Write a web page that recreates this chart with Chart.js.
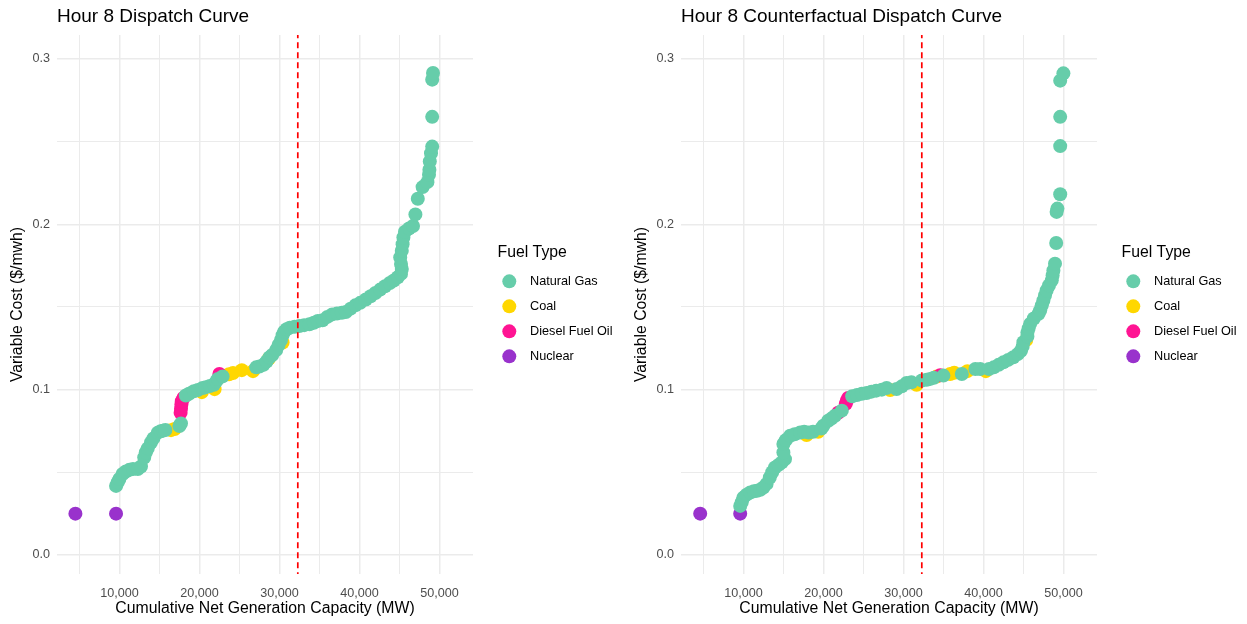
<!DOCTYPE html>
<html>
<head>
<meta charset="utf-8">
<title>Hour 8 Dispatch Curves</title>
<script src="https://cdn.jsdelivr.net/npm/chart.js@4.4.1/dist/chart.umd.min.js"></script>
<style>
  html, body { margin: 0; padding: 0; background: #fff; }
  #wrap { display: flex; width: 1247px; height: 624px; }
  canvas { display: block; }
</style>
</head>
<body>
<div id="wrap">
  <canvas id="dispatch" width="624" height="624"></canvas>
  <canvas id="counter" width="623" height="624"></canvas>
</div>
<script>
// Fuel types, legend order and colours
const fuelTypes = ['Natural Gas', 'Coal', 'Diesel Fuel Oil', 'Nuclear'];
const fuelColors = ['#66CDAA', '#FFD700', '#FF1493', '#9932CC'];
// lower = drawn later (on top)
const drawOrder = [1, 4, 3, 2];

// Load for hour 8 (MW), dashed line
const demandMW = 32300;

// Axis ranges and ticks (every tick gets a grid line, labelled ones are major)
const xMin = 2200, xMax = 54200;
const yMin = -0.0115, yMax = 0.3145;
const xTickValues = [5000, 10000, 15000, 20000, 25000, 30000, 35000, 40000, 45000, 50000];
const xTickLabels = ['', '10,000', '', '20,000', '', '30,000', '', '40,000', '', '50,000'];
const yTickValues = [0, 0.05, 0.1, 0.15, 0.2, 0.25, 0.3];
const yTickLabels = ['0.0', '', '0.1', '', '0.2', '', '0.3'];

// ---- Hour 8 Dispatch Curve ----
const dispGasMW = [9580, 9800, 10000, 10400, 10800, 11250, 11700, 12300, 12700, 13100, 13300, 13550, 13950, 14250,
  14800, 15150, 15450, 15750, 17500, 17700, 18300, 18700, 19300, 19800, 20400, 20800, 21300, 21800, 22100, 22300,
  22900, 27100, 27500, 28000, 28400, 28750, 29100, 29600, 29900, 30200, 30400, 30600, 30900, 31300, 31900, 32500,
  33100, 33750, 34300, 34800, 35400, 36000, 36600, 37200, 37800, 38300, 38900, 39500, 40100, 40800, 41400, 42000,
  42600, 43200, 43800, 44300, 44800, 45200, 45300, 45200, 45100, 45300, 45400, 45500, 45700, 46200, 46700, 47000,
  47300, 47900, 48500, 48700, 48750, 48800, 48950, 49100, 49100, 49100, 49200];
const dispGasCost = [0.0418, 0.0440, 0.0460, 0.0490, 0.0505, 0.0515, 0.0520, 0.0520, 0.0535, 0.0590, 0.0620, 0.0645, 0.0680, 0.0705,
  0.0740, 0.0748, 0.0752, 0.0756, 0.0780, 0.0795, 0.0965, 0.0975, 0.0990, 0.0998, 0.1010, 0.1015, 0.1022, 0.1030, 0.1050, 0.1065,
  0.1080, 0.1135, 0.1140, 0.1150, 0.1170, 0.1195, 0.1210, 0.1240, 0.1270, 0.1300, 0.1330, 0.1350, 0.1365, 0.1375, 0.1380, 0.1385,
  0.1390, 0.1395, 0.1405, 0.1415, 0.1420, 0.1440, 0.1455, 0.1460, 0.1465, 0.1470, 0.1490, 0.1510, 0.1525, 0.1545, 0.1565, 0.1585,
  0.1605, 0.1625, 0.1645, 0.1660, 0.1680, 0.1700, 0.1730, 0.1760, 0.1800, 0.1840, 0.1880, 0.1920, 0.1955, 0.1975, 0.1990, 0.2060,
  0.2155, 0.2225, 0.2255, 0.2300, 0.2330, 0.2380, 0.2430, 0.2470, 0.2650, 0.2875, 0.2915];
const dispCoalMW = [16450, 16900, 20300, 21900, 23700, 24200, 25300, 26700, 28700, 30400];
const dispCoalCost = [0.0755, 0.0762, 0.0985, 0.1003, 0.1093, 0.1100, 0.1118, 0.1112, 0.1188, 0.1285];
const dispDieselMW = [17650, 17700, 17750, 17800, 18000, 22500];
const dispDieselCost = [0.0860, 0.0885, 0.0910, 0.0930, 0.0950, 0.1095];
const dispNuclearMW = [4500, 9580];
const dispNuclearCost = [0.025, 0.025];

// ---- Hour 8 Counterfactual Dispatch Curve ----
const cfGasMW = [9600, 9800, 10000, 10400, 10850, 11300, 11700, 12100, 12500, 12900, 13300, 13600, 13950, 14400,
  14800, 15200, 15000, 15000, 15300, 15850, 16400, 17100, 17600, 18150, 18700, 19750, 20000, 20600, 21000, 21450,
  22300, 23600, 24200, 24800, 25400, 26000, 26600, 27300, 27900, 29150, 29800, 30400, 31000, 32300, 32900, 33350,
  33800, 35000, 37300, 39000, 39600, 40700, 41300, 41900, 42500, 43100, 43750, 44300, 44700, 44900, 45000, 45500,
  45500, 45650, 45850, 46300, 46900, 47100, 47300, 47500, 47700, 47900, 48200, 48550, 48650, 48750, 48950, 49100,
  49150, 49250, 49600, 49600, 49600, 49600, 50000];
const cfGasCost = [0.0297, 0.0320, 0.0347, 0.0365, 0.0378, 0.0385, 0.0388, 0.0395, 0.0408, 0.0430, 0.0469, 0.0500, 0.0529, 0.0545,
  0.0560, 0.0580, 0.0620, 0.0671, 0.0695, 0.0721, 0.0730, 0.0741, 0.0745, 0.0741, 0.0745, 0.0765, 0.0782, 0.0812, 0.0825, 0.0842,
  0.0873, 0.0960, 0.0968, 0.0975, 0.0980, 0.0988, 0.0994, 0.1000, 0.1010, 0.1004, 0.1020, 0.1040, 0.1045, 0.1055, 0.1060, 0.1065,
  0.1072, 0.1085, 0.1095, 0.1125, 0.1125, 0.1125, 0.1135, 0.1150, 0.1165, 0.1180, 0.1196, 0.1215, 0.1235, 0.1260, 0.1287, 0.1322,
  0.1345, 0.1370, 0.1398, 0.1430, 0.1459, 0.1480, 0.1510, 0.1539, 0.1570, 0.1600, 0.1630, 0.1661, 0.1690, 0.1721, 0.1762, 0.1887,
  0.2075, 0.2095, 0.2182, 0.2473, 0.2650, 0.2869, 0.2913];
const cfCoalMW = [17900, 19350, 28350, 31650, 34150, 35850, 36350, 38000, 40300, 45350];
const cfCoalCost = [0.0725, 0.0745, 0.0998, 0.1030, 0.1079, 0.1095, 0.1102, 0.1112, 0.1112, 0.1300];
const cfDieselMW = [21850, 22800, 22950, 23100, 34600];
const cfDieselCost = [0.0860, 0.0915, 0.0935, 0.0950, 0.1087];
const cfNuclearMW = [4600, 9600];
const cfNuclearCost = [0.025, 0.025];

const FONT = '"Liberation Sans", Arial, sans-serif';
Chart.defaults.font.family = FONT;

// draws the "Fuel Type" legend to the right of the panel, centred on it
const fuelLegend = {
  id: 'fuelLegend',
  afterDraw(chart) {
    const {ctx, chartArea} = chart;
    const items = chart.data.datasets.filter(d => !d.hideInLegend);
    const x0 = chartArea.right + 24.5;
    const rowGap = 25;
    const titleGap = 28.7;
    const blockH = titleGap + (items.length - 1) * rowGap;
    let y = (chartArea.top + chartArea.bottom) / 2 - blockH / 2;
    ctx.save();
    ctx.textBaseline = 'middle';
    ctx.textAlign = 'left';
    ctx.fillStyle = '#000';
    ctx.font = '15.8px ' + FONT;
    ctx.fillText('Fuel Type', x0, y);
    y += titleGap;
    items.forEach(d => {
      ctx.beginPath();
      ctx.arc(x0 + 11.8, y, 7, 0, Math.PI * 2);
      ctx.fillStyle = d.backgroundColor;
      ctx.fill();
      ctx.fillStyle = '#000';
      ctx.font = '12.7px ' + FONT;
      ctx.fillText(d.label, x0 + 32.5, y);
      y += rowGap;
    });
    ctx.restore();
  }
};

function makeChart(canvasId, titleText, mwLists, costLists, padRight) {
  const datasets = fuelTypes.map((fuel, i) => ({
    label: fuel,
    data: mwLists[i].map((mw, j) => ({x: mw, y: costLists[i][j]})),
    backgroundColor: fuelColors[i],
    borderWidth: 0,
    pointRadius: 7,
    pointHoverRadius: 7,
    order: drawOrder[i]
  }));
  datasets.push({
    label: 'Load',
    hideInLegend: true,
    data: [{x: demandMW, y: -1}, {x: demandMW, y: 1}],
    showLine: true,
    borderColor: '#FF0000',
    borderWidth: 1.7,
    borderDash: [6, 4],
    pointRadius: 0,
    order: 0
  });

  return new Chart(document.getElementById(canvasId), {
    type: 'scatter',
    data: {datasets: datasets},
    options: {
      responsive: false,
      animation: false,
      events: [],
      layout: {padding: {left: 3, right: padRight, top: 0, bottom: 0}},
      plugins: {
        legend: {display: false},
        tooltip: {enabled: false},
        title: {
          display: true,
          text: titleText,
          align: 'start',
          fullSize: false,
          color: '#000',
          font: {size: 19, weight: 'normal'},
          padding: {top: 5.6, bottom: 6.6}
        }
      },
      scales: {
        x: {
          type: 'linear',
          min: xMin,
          max: xMax,
          border: {display: false},
          afterBuildTicks: axis => { axis.ticks = xTickValues.map(v => ({value: v})); },
          afterFit: axis => { axis.height = 50; },
          grid: {
            drawTicks: false,
            color: '#EBEBEB',
            lineWidth: c => xTickLabels[c.index] ? 1.5 : 1
          },
          ticks: {
            autoSkip: false,
            maxRotation: 0,
            padding: 11.5,
            color: '#4D4D4D',
            font: {size: 12.6},
            callback: (v, i) => xTickLabels[i]
          },
          title: {
            display: true,
            text: 'Cumulative Net Generation Capacity (MW)',
            color: '#000',
            font: {size: 15.8},
            padding: {top: 0, bottom: 5.5}
          }
        },
        y: {
          type: 'linear',
          min: yMin,
          max: yMax,
          border: {display: false},
          afterBuildTicks: axis => { axis.ticks = yTickValues.map(v => ({value: v})); },
          afterFit: axis => { axis.width = 54; },
          grid: {
            drawTicks: false,
            color: '#EBEBEB',
            lineWidth: c => yTickLabels[c.index] ? 1.5 : 1
          },
          ticks: {
            autoSkip: false,
            padding: 7,
            color: '#4D4D4D',
            font: {size: 12.6},
            callback: (v, i) => yTickLabels[i]
          },
          title: {
            display: true,
            text: 'Variable Cost ($/mwh)',
            color: '#000',
            font: {size: 15.8},
            padding: {top: 5.5, bottom: 0}
          }
        }
      }
    },
    plugins: [fuelLegend]
  });
}

makeChart('dispatch', 'Hour 8 Dispatch Curve',
  [dispGasMW, dispCoalMW, dispDieselMW, dispNuclearMW],
  [dispGasCost, dispCoalCost, dispDieselCost, dispNuclearCost], 151);

makeChart('counter', 'Hour 8 Counterfactual Dispatch Curve',
  [cfGasMW, cfCoalMW, cfDieselMW, cfNuclearMW],
  [cfGasCost, cfCoalCost, cfDieselCost, cfNuclearCost], 150);
</script>
</body>
</html>
